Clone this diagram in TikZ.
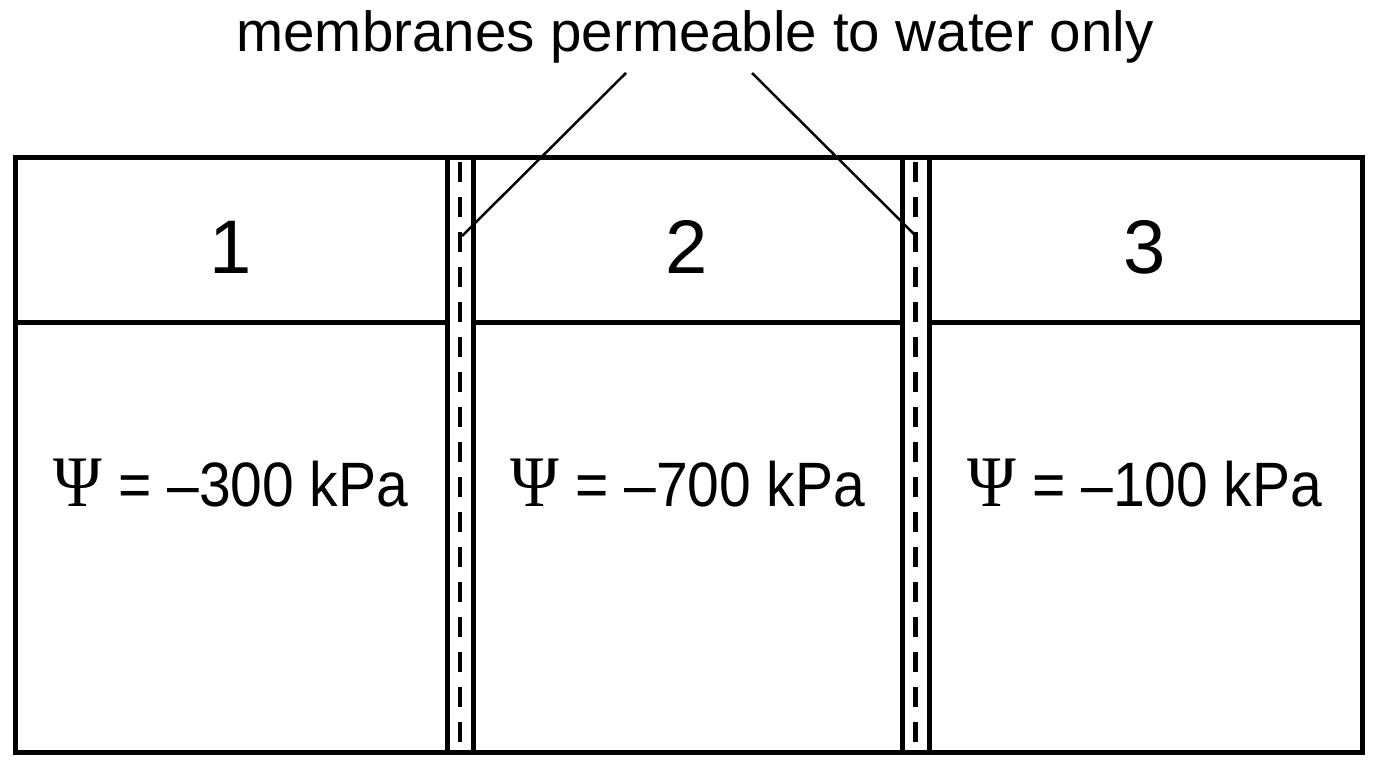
\documentclass[tikz,border=0pt]{standalone}
\usepackage{fontspec}
\setmainfont{Liberation Sans}
\newfontfamily\psifont{Liberation Serif}
\begin{document}
\begin{tikzpicture}[x=1pt,y=-1pt,
  wall/.style={line width=5pt},
  memdash/.style={line width=4.5pt,dash pattern=on 20pt off 15pt},
  leader/.style={line width=2.5pt},
  lbl/.style={anchor=base,inner sep=0pt,font=\fontsize{56.5}{60}\selectfont},
  num/.style={anchor=base,inner sep=0pt,font=\fontsize{76}{80}\selectfont},
  psi/.style={anchor=base,inner sep=0pt,font=\fontsize{57}{60}\selectfont}]
\useasboundingbox (0,0) rectangle (1376,768);
% outer box and horizontal divider
\draw[wall] (15.5,157.5) rectangle (1362,752);
\draw[wall] (15.5,322) -- (447,322);
\draw[wall] (473,322) -- (902.5,322);
\draw[wall] (929.5,322) -- (1362,322);
% membranes
\draw[wall] (447,157.5) -- (447,752);
\draw[wall] (473,157.5) -- (473,752);
\draw[memdash] (460,162) -- (460,750);
\draw[wall] (902.5,157.5) -- (902.5,752);
\draw[wall] (929.5,157.5) -- (929.5,752);
\draw[memdash] (915.5,162) -- (915.5,750);
% label and leaders
\node[lbl] (title) at (695,52) {membranes permeable to water only};
\coordinate (t1) at (626,73);
\coordinate (t2) at (752,73);
\coordinate (m1) at (462,236);
\coordinate (m2) at (916,236);
\draw[leader] (t1) -- (m1);
\draw[leader] (t2) -- (m2);
% compartment numbers
\node[num] (n1) at (231,273) {1};
\node[num] (n2) at (687,273) {2};
\node[num] (n3) at (1145,273) {3};
% water potentials
\node[psi] (p1) at (231,506) {\scalebox{1}[1.1]{{\psifont\fontsize{66}{70}\selectfont Ψ} = –300 kPa}};
\node[psi] (p2) at (688,506) {\scalebox{1}[1.1]{{\psifont\fontsize{66}{70}\selectfont Ψ} = –700 kPa}};
\node[psi] (p3) at (1145,506) {\scalebox{1}[1.1]{{\psifont\fontsize{66}{70}\selectfont Ψ} = –100 kPa}};
\end{tikzpicture}
\end{document}
